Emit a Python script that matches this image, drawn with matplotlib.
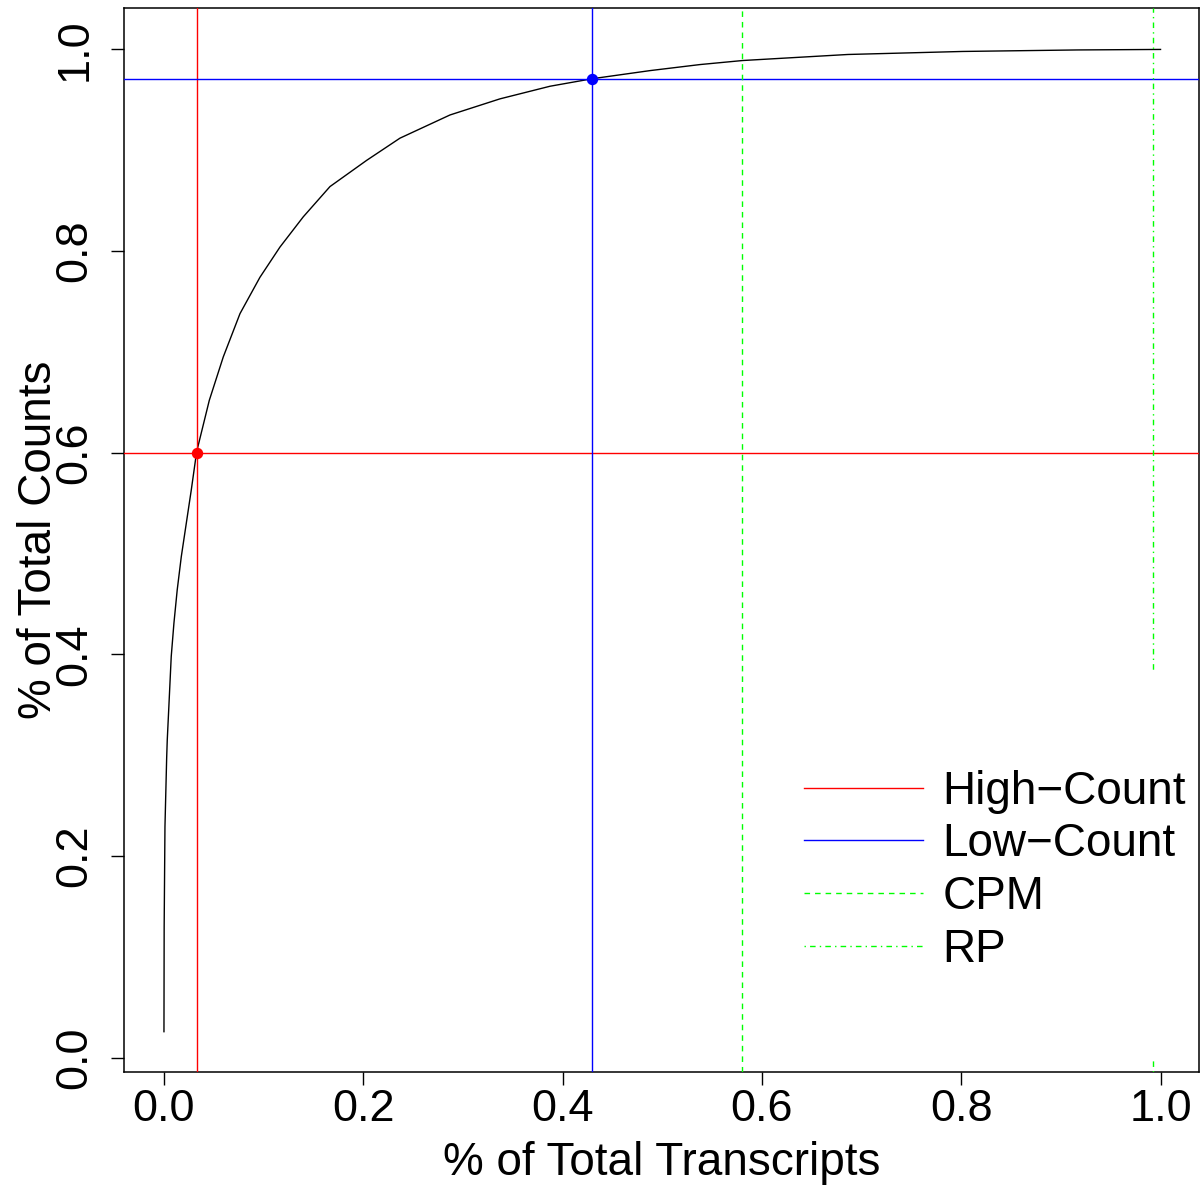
import matplotlib
matplotlib.use("Agg")
import matplotlib.pyplot as plt
from matplotlib.patches import Rectangle

# cumulative curve
frac_transcripts = [0.0, 0.0002, 0.001, 0.0027, 0.0033, 0.0049, 0.0073, 0.0100, 0.0133,
                    0.0174, 0.0224, 0.0274, 0.0328, 0.0455, 0.0595, 0.0763, 0.0963,
                    0.1164, 0.1398, 0.1666, 0.2034, 0.2368, 0.287, 0.3372, 0.3874,
                    0.430, 0.4877, 0.5379, 0.5806, 0.6863, 0.8015, 0.9167, 1.0]
frac_counts = [0.0258, 0.130, 0.229, 0.297, 0.315, 0.348, 0.398, 0.431, 0.464,
               0.497, 0.530, 0.563, 0.601, 0.652, 0.695, 0.738, 0.774,
               0.804, 0.834, 0.864, 0.890, 0.912, 0.935, 0.951, 0.9635,
               0.971, 0.979, 0.985, 0.989, 0.995, 0.998, 0.9995, 1.0]

high_x, high_y = 0.0328, 0.60
low_x, low_y = 0.430, 0.971
cpm_x = 0.580
rp_x = 0.9928

legend_labels = ["High\u2212Count", "Low\u2212Count", "CPM", "RP"]
x_ticks = [0.0, 0.2, 0.4, 0.6, 0.8, 1.0]
y_ticks = [0.0, 0.2, 0.4, 0.6, 0.8, 1.0]

plt.rcParams['font.family'] = ['Liberation Sans', 'DejaVu Sans']

W, H = 1201, 1186
fig = plt.figure(figsize=(W / 100, H / 100), dpi=100)
ax = fig.add_axes([124 / W, (H - 1071.5) / H, (1199 - 124) / W, (1071.5 - 8) / H])

lw = 1.0
ax.plot(frac_transcripts, frac_counts, color='black', lw=lw, zorder=2)

l1 = ax.axvline(high_x, color='#FF0000', lw=lw, zorder=3)
ax.axhline(high_y, color='#FF0000', lw=lw, zorder=3)
l2 = ax.axvline(low_x, color='#0000FF', lw=lw, zorder=3)
ax.axhline(low_y, color='#0000FF', lw=lw, zorder=3)
l3 = ax.axvline(cpm_x, color='#00FF00', lw=lw, ls=(0, (4, 3.6)), zorder=3)
l4 = ax.axvline(rp_x, color='#00FF00', lw=lw, ls=(0, (1, 3, 4, 3)), zorder=3)

ax.plot([high_x], [high_y], 'o', color='#FF0000', ms=7.2, zorder=4)
ax.plot([low_x], [low_y], 'o', color='#0000FF', ms=7.2, zorder=4)

ax.set_xlim(-0.0401, 1.0386)
ax.set_ylim(-0.0137, 1.0411)

# white legend background
ax.add_patch(Rectangle((0.628, -0.0033), 1.0316 - 0.628, 0.3825 + 0.0033,
                       facecolor='white', edgecolor='none', zorder=5))

leg = ax.legend([l1, l2, l3, l4], legend_labels, loc='center left',
                bbox_to_anchor=((804 - 124) / 1075, (1071.5 - 870.85) / 1063.5),
                frameon=False, fontsize=33, handlelength=2.6, handletextpad=0.42,
                labelspacing=0.19, borderpad=0, borderaxespad=0)
leg.set_zorder(6)

ax.set_xticks(x_ticks)
ax.set_xticklabels([f"{v:.1f}" for v in x_ticks])
ax.set_yticks(y_ticks)
ax.set_yticklabels([f"{v:.1f}" for v in y_ticks], rotation=90, va='center')
ax.tick_params(axis='both', direction='out', length=9.5, width=1.0, labelsize=32.5,
               color='black')
ax.tick_params(axis='x', pad=3)
ax.tick_params(axis='y', pad=11)
for s in ax.spines.values():
    s.set_linewidth(1.1)

ax.set_xlabel("% of Total Transcripts", fontsize=33)
ax.set_ylabel("% of Total Counts", fontsize=33)
ax.xaxis.set_label_coords(0.5, -(1141 - 1071.5) / 1063.5)
ax.yaxis.set_label_coords(-(124 - 61) / 1075, 0.5)

fig.savefig("out.png", dpi=100, facecolor='white')
